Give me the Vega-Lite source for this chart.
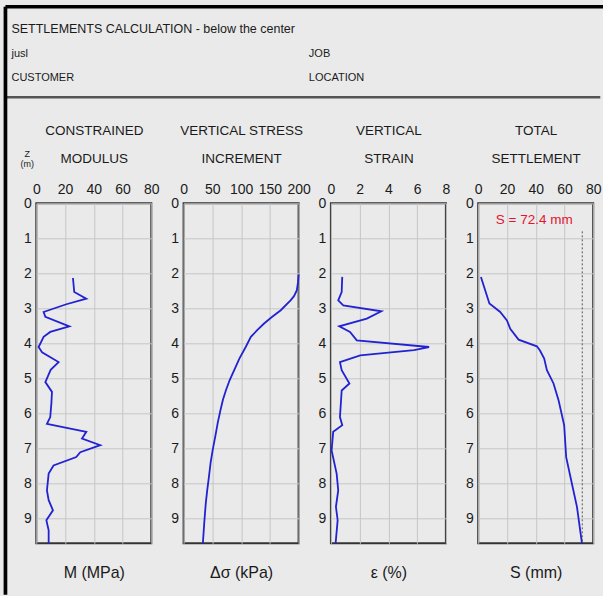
{
  "$schema": "https://vega.github.io/schema/vega-lite/v6.json",
  "background": "#eaeaea",
  "padding": {"left": 3.3, "top": 4.7, "right": 0, "bottom": 1.6},
  "autosize": {"type": "pad"},
  "config": {
    "font": "Liberation Sans, Arial, sans-serif",
    "view": {"stroke": "#333333", "strokeWidth": 2},
    "axis": {
      "labelFontSize": 14,
      "labelColor": "#1a1a1a",
      "titleColor": "#1a1a1a",
      "titleFontWeight": "normal",
      "gridColor": "#c6c6c6",
      "gridWidth": 1,
      "ticks": false,
      "domain": false,
      "labelFlush": false
    }
  },
  "datasets": {
    "mod": [
      {"z": 2.13, "M": 25.5}, {"z": 2.53, "M": 26.4}, {"z": 2.72, "M": 34.8}, {"z": 2.88, "M": 20.9},
      {"z": 3.10, "M": 5.1}, {"z": 3.24, "M": 6.3}, {"z": 3.51, "M": 23}, {"z": 3.67, "M": 9.7},
      {"z": 3.81, "M": 5.1}, {"z": 4.10, "M": 1.6}, {"z": 4.25, "M": 4}, {"z": 4.42, "M": 11},
      {"z": 4.53, "M": 15.5}, {"z": 4.75, "M": 10}, {"z": 5.10, "M": 6.3}, {"z": 5.38, "M": 10.9},
      {"z": 5.70, "M": 10.5}, {"z": 6.10, "M": 9.7}, {"z": 6.29, "M": 7.4}, {"z": 6.52, "M": 34.8},
      {"z": 6.71, "M": 31.8}, {"z": 6.90, "M": 44.5}, {"z": 7.10, "M": 30.6}, {"z": 7.24, "M": 27.8},
      {"z": 7.48, "M": 12}, {"z": 7.71, "M": 8.6}, {"z": 8.19, "M": 7.4}, {"z": 8.47, "M": 8.6},
      {"z": 8.76, "M": 11.6}, {"z": 9.04, "M": 7}, {"z": 9.33, "M": 8.6}, {"z": 9.70, "M": 8.6}
    ],
    "stress": [
      {"z": 2.03, "ds": 200}, {"z": 2.25, "ds": 199}, {"z": 2.48, "ds": 197}, {"z": 2.65, "ds": 192},
      {"z": 2.77, "ds": 186}, {"z": 3.05, "ds": 169}, {"z": 3.25, "ds": 153}, {"z": 3.43, "ds": 140},
      {"z": 3.62, "ds": 128}, {"z": 3.81, "ds": 117}, {"z": 4.10, "ds": 108}, {"z": 4.43, "ds": 97},
      {"z": 4.76, "ds": 88}, {"z": 5.05, "ds": 80}, {"z": 5.34, "ds": 73.5}, {"z": 5.60, "ds": 68.5},
      {"z": 5.91, "ds": 64}, {"z": 6.25, "ds": 59.5}, {"z": 6.57, "ds": 56}, {"z": 7.05, "ds": 50.5},
      {"z": 7.40, "ds": 47}, {"z": 7.81, "ds": 44}, {"z": 8.20, "ds": 41}, {"z": 8.57, "ds": 38.5},
      {"z": 9.10, "ds": 36}, {"z": 9.70, "ds": 33.5}
    ],
    "strain": [
      {"z": 2.10, "e": 0.79}, {"z": 2.53, "e": 0.75}, {"z": 2.77, "e": 0.51}, {"z": 2.91, "e": 0.86},
      {"z": 3.08, "e": 3.51}, {"z": 3.29, "e": 2.5}, {"z": 3.51, "e": 0.58}, {"z": 3.67, "e": 1.33},
      {"z": 3.91, "e": 1.80}, {"z": 4.10, "e": 6.83}, {"z": 4.19, "e": 5.78}, {"z": 4.34, "e": 2.04},
      {"z": 4.53, "e": 0.63}, {"z": 4.76, "e": 0.75}, {"z": 5.14, "e": 1.29}, {"z": 5.34, "e": 0.75},
      {"z": 6.10, "e": 0.63}, {"z": 6.33, "e": 0.79}, {"z": 6.52, "e": 0.16}, {"z": 7.05, "e": 0.05},
      {"z": 7.71, "e": 0.4}, {"z": 8.19, "e": 0.51}, {"z": 8.66, "e": 0.35}, {"z": 9.04, "e": 0.47},
      {"z": 9.69, "e": 0.33}
    ],
    "settle": [
      {"z": 2.10, "S": 1.9}, {"z": 2.86, "S": 7.8}, {"z": 3.10, "S": 15.3}, {"z": 3.34, "S": 20},
      {"z": 3.58, "S": 22.3}, {"z": 3.89, "S": 28.1}, {"z": 4.08, "S": 40.8}, {"z": 4.20, "S": 43},
      {"z": 4.43, "S": 45.9}, {"z": 4.76, "S": 47.8}, {"z": 5.14, "S": 52.4}, {"z": 5.62, "S": 55.9},
      {"z": 6.33, "S": 59.8}, {"z": 7.24, "S": 61.2}, {"z": 8.00, "S": 65.2}, {"z": 8.66, "S": 68.7},
      {"z": 9.70, "S": 72.2}
    ]
  },
  "bounds": "flush",
  "spacing": 98.6,
  "vconcat": [
    {
      "width": 564,
      "height": 98,
      "view": {"stroke": null},
      "layer": [
        {
          "data": {"values": [{"line": 1, "col": 0, "text": "SETTLEMENTS CALCULATION - below the center"}]},
          "mark": {"type": "text", "align": "left", "baseline": "middle", "fontSize": 12.5, "dx": 6, "dy": -2, "color": "#1a1a1a"},
          "encoding": {
            "x": {"field": "col", "type": "quantitative", "scale": {"domain": [0, 1], "range": [-30.85, 564]}, "axis": null},
            "y": {"field": "line", "type": "quantitative", "scale": {"domain": [0, 4], "range": [0, 98]}, "axis": null},
            "text": {"field": "text"}
          }
        },
        {
          "data": {"values": [
            {"line": 2, "col": 0, "text": "jusl"}, {"line": 2, "col": 0.5, "text": "JOB"},
            {"line": 3, "col": 0, "text": "CUSTOMER"}, {"line": 3, "col": 0.5, "text": "LOCATION"}
          ]},
          "mark": {"type": "text", "align": "left", "baseline": "middle", "fontSize": 11, "dx": 6, "dy": -2, "color": "#1a1a1a"},
          "encoding": {
            "x": {"field": "col", "type": "quantitative", "axis": null},
            "y": {"field": "line", "type": "quantitative", "axis": null},
            "text": {"field": "text"}
          }
        },
        {
          "data": {"values": [{}]},
          "mark": {"type": "rule", "color": "#555555", "strokeWidth": 2.5},
          "encoding": {"x": {"datum": 0, "axis": null}, "x2": {"datum": 1}, "y": {"datum": 3.7, "axis": null}}
        },
        {
          "data": {"values": [{}]},
          "mark": {"type": "rule", "color": "#000000", "strokeWidth": 3.4},
          "encoding": {"x": {"datum": 0, "axis": null}, "x2": {"datum": 1.005}, "y": {"datum": 0, "axis": null}}
        },
        {
          "data": {"values": [{}]},
          "mark": {"type": "rule", "color": "#000000", "strokeWidth": 3.7},
          "encoding": {"x": {"datum": 0, "axis": null}, "y": {"datum": 0, "axis": null}, "y2": {"datum": 24}}
        }
      ]
    },
    {
      "bounds": "flush",
      "spacing": 32.3,
      "hconcat": [
        {
          "width": 115, "height": 340,
          "data": {"name": "mod"},
          "resolve": {"axis": {"x": "independent"}},
          "layer": [
            {
              "mark": {"type": "line", "color": "#2222d2", "strokeWidth": 1.8},
              "encoding": {
                "x": {"field": "M", "type": "quantitative", "scale": {"domain": [0, 80], "nice": false},
                  "axis": {"orient": "top", "values": [0, 20, 40, 60, 80], "title": ["CONSTRAINED", "MODULUS"], "titlePadding": 17, "titleFontSize": 13.5, "titleLineHeight": 28, "labelPadding": 7, "grid": true}},
                "y": {"field": "z", "type": "quantitative", "scale": {"domain": [0, 9.7], "reverse": true, "nice": false, "zero": false},
                  "axis": {"values": [0, 1, 2, 3, 4, 5, 6, 7, 8, 9], "labelPadding": 5, "grid": true, "title": ["Z", "(m)"], "titleAngle": 0, "titleFontSize": 9, "titleX": -9.5, "titleY": -49.6, "titleAlign": "center", "titleBaseline": "middle", "titleLineHeight": 10}},
                "order": {"field": "z", "type": "quantitative"}
              }
            },
            {
              "mark": {"type": "line", "strokeOpacity": 0},
              "encoding": {
                "x": {"field": "M", "type": "quantitative", "axis": {"orient": "bottom", "labels": false, "grid": false, "title": "M (MPa)", "titleFontSize": 16, "titlePadding": 21}},
                "y": {"field": "z", "type": "quantitative",
                  "axis": {"values": [0, 1, 2, 3, 4, 5, 6, 7, 8, 9], "labelPadding": 5, "grid": true, "title": ["Z", "(m)"], "titleAngle": 0, "titleFontSize": 9, "titleX": -9.5, "titleY": -49.6, "titleAlign": "center", "titleBaseline": "middle", "titleLineHeight": 10}},
                "order": {"field": "z", "type": "quantitative"}
              }
            }
          ]
        },
        {
          "width": 115, "height": 340,
          "data": {"name": "stress"},
          "resolve": {"axis": {"x": "independent"}},
          "layer": [
            {
              "mark": {"type": "line", "color": "#2222d2", "strokeWidth": 1.8},
              "encoding": {
                "x": {"field": "ds", "type": "quantitative", "scale": {"domain": [0, 200], "nice": false},
                  "axis": {"orient": "top", "values": [0, 50, 100, 150, 200], "title": ["VERTICAL STRESS", "INCREMENT"], "titlePadding": 17, "titleFontSize": 13.5, "titleLineHeight": 28, "labelPadding": 7, "grid": true}},
                "y": {"field": "z", "type": "quantitative", "scale": {"domain": [0, 9.7], "reverse": true, "nice": false, "zero": false},
                  "axis": {"values": [0, 1, 2, 3, 4, 5, 6, 7, 8, 9], "labelPadding": 5, "grid": true, "title": null}},
                "order": {"field": "z", "type": "quantitative"}
              }
            },
            {
              "mark": {"type": "line", "strokeOpacity": 0},
              "encoding": {
                "x": {"field": "ds", "type": "quantitative", "axis": {"orient": "bottom", "labels": false, "grid": false, "title": "Δσ (kPa)", "titleFontSize": 16, "titlePadding": 21}},
                "y": {"field": "z", "type": "quantitative",
                  "axis": {"values": [0, 1, 2, 3, 4, 5, 6, 7, 8, 9], "labelPadding": 5, "grid": true, "title": null}},
                "order": {"field": "z", "type": "quantitative"}
              }
            }
          ]
        },
        {
          "width": 115, "height": 340,
          "data": {"name": "strain"},
          "resolve": {"axis": {"x": "independent"}},
          "layer": [
            {
              "mark": {"type": "line", "color": "#2222d2", "strokeWidth": 1.8},
              "encoding": {
                "x": {"field": "e", "type": "quantitative", "scale": {"domain": [0, 8], "nice": false},
                  "axis": {"orient": "top", "values": [0, 2, 4, 6, 8], "title": ["VERTICAL", "STRAIN"], "titlePadding": 17, "titleFontSize": 13.5, "titleLineHeight": 28, "labelPadding": 7, "grid": true}},
                "y": {"field": "z", "type": "quantitative", "scale": {"domain": [0, 9.7], "reverse": true, "nice": false, "zero": false},
                  "axis": {"values": [0, 1, 2, 3, 4, 5, 6, 7, 8, 9], "labelPadding": 5, "grid": true, "title": null}},
                "order": {"field": "z", "type": "quantitative"}
              }
            },
            {
              "mark": {"type": "line", "strokeOpacity": 0},
              "encoding": {
                "x": {"field": "e", "type": "quantitative", "axis": {"orient": "bottom", "labels": false, "grid": false, "title": "ε (%)", "titleFontSize": 16, "titlePadding": 21}},
                "y": {"field": "z", "type": "quantitative",
                  "axis": {"values": [0, 1, 2, 3, 4, 5, 6, 7, 8, 9], "labelPadding": 5, "grid": true, "title": null}},
                "order": {"field": "z", "type": "quantitative"}
              }
            }
          ]
        },
        {
          "width": 115, "height": 340,
          "data": {"name": "settle"},
          "resolve": {"axis": {"x": "independent"}},
          "layer": [
            {
              "mark": {"type": "line", "color": "#2222d2", "strokeWidth": 1.8},
              "encoding": {
                "x": {"field": "S", "type": "quantitative", "scale": {"domain": [0, 80], "nice": false},
                  "axis": {"orient": "top", "values": [0, 20, 40, 60, 80], "title": ["TOTAL", "SETTLEMENT"], "titlePadding": 17, "titleFontSize": 13.5, "titleLineHeight": 28, "labelPadding": 7, "grid": true}},
                "y": {"field": "z", "type": "quantitative", "scale": {"domain": [0, 9.7], "reverse": true, "nice": false, "zero": false},
                  "axis": {"values": [0, 1, 2, 3, 4, 5, 6, 7, 8, 9], "labelPadding": 5, "grid": true, "title": null}},
                "order": {"field": "z", "type": "quantitative"}
              }
            },
            {
              "data": {"values": [{}]},
              "mark": {"type": "rule", "color": "#555555", "strokeWidth": 1, "strokeDash": [2, 2]},
              "encoding": {
                "x": {"datum": 72.4, "axis": null},
                "y": {"datum": 0.8, "axis": {"values": [0, 1, 2, 3, 4, 5, 6, 7, 8, 9], "labelPadding": 5, "grid": true, "title": null}},
                "y2": {"datum": 9.7}
              }
            },
            {
              "data": {"values": [{}]},
              "mark": {"type": "text", "color": "#e3142d", "fontSize": 13.5, "align": "center", "baseline": "middle"},
              "encoding": {
                "x": {"datum": 39, "axis": null},
                "y": {"datum": 0.47, "axis": {"values": [0, 1, 2, 3, 4, 5, 6, 7, 8, 9], "labelPadding": 5, "grid": true, "title": null}},
                "text": {"value": "S = 72.4 mm"}
              }
            },
            {
              "mark": {"type": "line", "strokeOpacity": 0},
              "encoding": {
                "x": {"field": "S", "type": "quantitative", "axis": {"orient": "bottom", "labels": false, "grid": false, "title": "S (mm)", "titleFontSize": 16, "titlePadding": 21}},
                "y": {"field": "z", "type": "quantitative",
                  "axis": {"values": [0, 1, 2, 3, 4, 5, 6, 7, 8, 9], "labelPadding": 5, "grid": true, "title": null}},
                "order": {"field": "z", "type": "quantitative"}
              }
            }
          ]
        }
      ]
    }
  ]
}
